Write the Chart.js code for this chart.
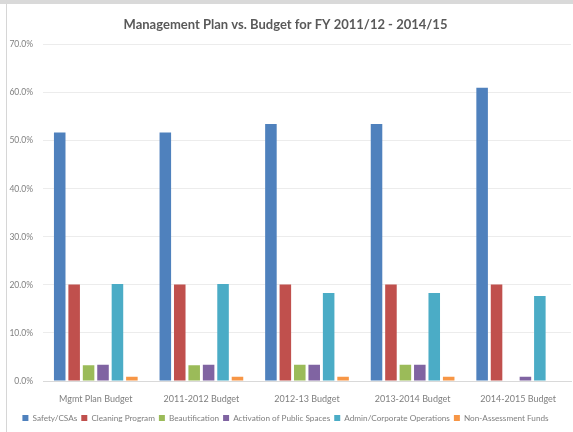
<!DOCTYPE html>
<html>
<head>
<meta charset="utf-8">
<script src="https://cdn.jsdelivr.net/npm/chart.js@4/dist/chart.umd.min.js"></script>
<style>
  html, body { margin: 0; padding: 0; background: #fff; }
  .wrap { position: relative; width: 573px; height: 432px; }
  .topband { position: absolute; left: 0; top: 0; width: 573px; height: 4px; background: #d9d9d9; }
  .leftline { position: absolute; left: 6px; top: 4px; width: 1px; height: 428px; background: #d6d6d6; }
  canvas { position: absolute; left: 0; top: 0; }
</style>
</head>
<body>
<div class="wrap">
  <canvas id="chart" width="573" height="432"></canvas>
  <div class="topband"></div>
  <div class="leftline"></div>
</div>
<script>
const categories = ['Mgmt Plan Budget', '2011-2012 Budget', '2012-13 Budget', '2013-2014 Budget', '2014-2015 Budget']

const safety = [51.7, 51.7, 53.5, 53.5, 61.0]
const cleaning = [20.1, 20.1, 20.1, 20.1, 20.1]
const beautification = [3.3, 3.3, 3.4, 3.4, 0]
const activation = [3.4, 3.4, 3.4, 3.4, 0.9]
const admin = [20.2, 20.2, 18.3, 18.3, 17.7]
const nonAssessment = [0.9, 0.9, 0.9, 0.9, 0]

const seriesNames = ['Safety/CSAs', 'Cleaning Program', 'Beautification', 'Activation of Public Spaces', 'Admin/Corporate Operations', 'Non-Assessment Funds']
const colors = ['#4f81bd', '#c0504d', '#9bbb59', '#8064a2', '#4bacc6', '#f79646']

const yMax = 70
const yStep = 10

const font = 'Lato, "Open Sans", sans-serif'
const textColor = '#7f7f7f'

const series = [safety, cleaning, beautification, activation, admin, nonAssessment]

const ctx = document.getElementById('chart').getContext('2d')

new Chart(ctx, {
  type: 'bar',
  data: {
    labels: categories,
    datasets: series.map((data, i) => ({
      label: seriesNames[i],
      data,
      backgroundColor: colors[i],
      borderWidth: 0,
      categoryPercentage: 0.82,
      barPercentage: 0.8,
    })),
  },
  options: {
    responsive: false,
    animation: false,
    layout: { padding: { left: 0, right: 2, top: 7, bottom: 0 } },
    plugins: {
      title: {
        display: true,
        text: 'Management Plan vs. Budget for FY 2011/12 - 2014/15',
        color: '#595959',
        font: { family: font, size: 13, weight: 'bold' },
        padding: { top: 10, bottom: 12 },
      },
      legend: {
        position: 'bottom',
        labels: {
          boxWidth: 6,
          boxHeight: 6,
          padding: 4,
          color: textColor,
          font: { family: font, size: 8.2 },
        },
      },
      tooltip: { enabled: false },
    },
    scales: {
      x: {
        grid: { display: false },
        border: { display: true, color: '#d9d9d9' },
        ticks: {
          color: textColor,
          font: { family: font, size: 9 },
          maxRotation: 0,
          padding: 5,
        },
      },
      y: {
        min: 0,
        max: yMax,
        afterFit: (scale) => { scale.width = 43 },
        grid: { color: '#ececec', drawTicks: false },
        border: { display: false },
        ticks: {
          stepSize: yStep,
          color: textColor,
          padding: 10,
          font: { family: font, size: 8.5 },
          callback: (v) => v.toFixed(1) + '%',
        },
      },
    },
  },
})
</script>
</body>
</html>
